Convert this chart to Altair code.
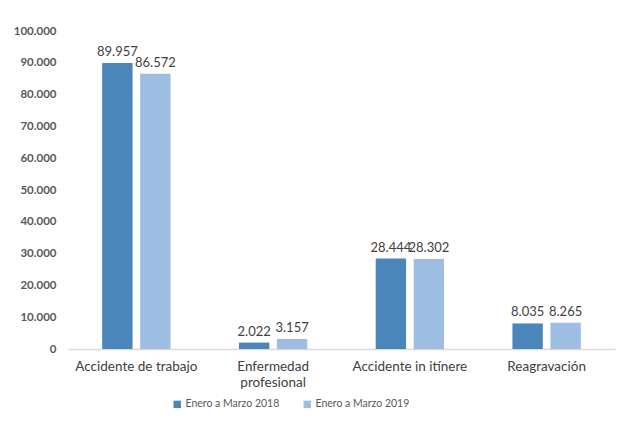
import altair as alt
import pandas as pd

categories = ["Accidente de trabajo", "Enfermedad profesional", "Accidente in itínere", "Reagravación"]
series = ["Enero a Marzo 2018", "Enero a Marzo 2019"]
values_2018 = [89957, 2022, 28444, 8035]
values_2019 = [86572, 3157, 28302, 8265]

rows = []
for c, a, b in zip(categories, values_2018, values_2019):
    rows.append({"cat": c, "serie": series[0], "v": a})
    rows.append({"cat": c, "serie": series[1], "v": b})
df = pd.DataFrame(rows)

FONT = "Lato"
color = alt.Color("serie:N", scale=alt.Scale(domain=series, range=["#4a86ba", "#9dbde2"]),
                  legend=alt.Legend(title=None, orient="none", legendX=104, legendY=368,
                                    direction="horizontal",
                                    symbolType="square", symbolSize=55, labelFontSize=10.5,
                                    labelColor="#595959", labelFont=FONT, columnPadding=22,
                                    symbolStrokeWidth=0, labelOffset=3))

x = alt.X("cat:N", sort=categories, scale=alt.Scale(paddingInner=0.0, paddingOuter=0.0),
          axis=alt.Axis(title=None, labelAngle=0, labelFontSize=13.5, labelColor="#404040",
                        labelFont=FONT, ticks=False, domainColor="#d9d9d9", domainWidth=1.5,
                        labelPadding=10, labelLineHeight=16,
                        labelExpr="datum.value == 'Enfermedad profesional' ? ['Enfermedad', 'profesional'] : datum.label"))
xo = alt.XOffset("serie:N", sort=series, scale=alt.Scale(paddingInner=0.2, paddingOuter=0.9))
y = alt.Y("v:Q", scale=alt.Scale(domain=[0, 100000]),
          axis=alt.Axis(title=None, values=list(range(0, 100001, 10000)), format=",d",
                        grid=False, domain=False, ticks=False, labelFontSize=11.5,
                        labelColor="#595959", labelFont=FONT, labelPadding=12, labelFontWeight="bold"))

base = alt.Chart(df).encode(x=x, xOffset=xo, y=y)
bars = base.mark_bar().encode(color=color)
labels = base.mark_text(dy=-11, fontSize=13, color="#404040", font=FONT).encode(text=alt.Text("v:Q", format=",d"))

chart = (bars + labels).properties(width=547, height=318,
    padding={"left": 5, "top": 17, "right": 5, "bottom": 5}).configure_view(stroke=None)

chart.save("out.html", embed_options={"renderer": "svg", "actions": False,
    "formatLocale": {"decimal": ",", "thousands": ".", "grouping": [3], "currency": ["", " €"]}})
